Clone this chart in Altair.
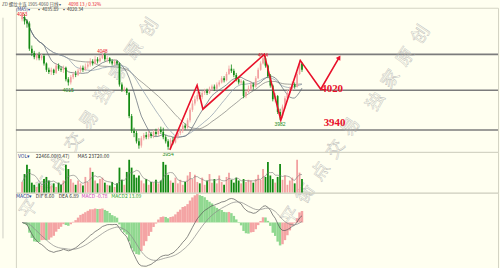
import altair as alt
import pandas as pd

# ---------------- data ----------------
opens = [4078,4080,4076,4074,4050,4046,4041,4044,4041,4043,
         4036,4030,4028,4030,4027,4034,4031,4030,4032,4021,
         4018,4023,4026,4025,4029,4032,4030,4033,4035,4038,
         4036,4040,4038,4041,4044,4040,4041,4038,4036,4038,
         4036,4016,4011,4012,4008,3986,3972,3970,3962,3958,
         3965,3968,3966,3969,3967,3971,3969,3973,3971,3966,
         3962,3957,3963,3961,3966,3970,3972,3977,3975,3982,
         3992,3998,4002,4006,4004,4008,4010,4008,4012,4014,
         4012,4016,4018,4022,4020,4026,4031,4029,4025,4021,
         4018,4019,4005,4009,4012,4016,4014,4022,4030,4036,
         4041,4034,4024,4015,4002,4005,3990,3986,3995,4003,
         4008,4012,4016,4014,4026,4036]
closes = [4081,4076,4074,4050,4046,4042,4044,4041,4043,4036,
          4030,4028,4030,4027,4034,4031,4030,4032,4021,4018,
          4023,4026,4025,4029,4032,4030,4033,4035,4038,4036,
          4040,4038,4041,4044,4040,4041,4038,4036,4038,4036,
          4016,4011,4012,4008,3986,3972,3970,3962,3958,3965,
          3968,3966,3969,3967,3971,3969,3973,3971,3966,3962,
          3957,3963,3961,3966,3970,3972,3977,3975,3982,3992,
          3998,4002,4006,4004,4008,4010,4008,4012,4014,4012,
          4016,4018,4022,4020,4026,4031,4029,4025,4021,4018,
          4019,4005,4009,4012,4016,4014,4022,4030,4036,4041,
          4034,4024,4015,4002,4005,3990,3986,3995,4003,4008,
          4012,4016,4014,4026,4036,4030]
highs = [4083,4083,4078,4076,4053,4048,4046,4047,4045,4045,
         4037,4032,4032,4031,4036,4036,4033,4034,4033,4023,
         4025,4028,4029,4031,4034,4034,4036,4038,4041,4040,
         4043,4042,4044,4048,4046,4043,4042,4040,4040,4039,
         4037,4018,4014,4013,4009,3988,3975,3972,3965,3967,
         3970,3971,3972,3971,3973,3974,3975,3976,3975,3968,
         3964,3965,3966,3968,3972,3974,3979,3979,3984,3994,
         4001,4005,4009,4009,4010,4012,4012,4014,4016,4016,
         4018,4020,4024,4024,4028,4034,4035,4031,4027,4023,
         4021,4020,4011,4015,4019,4018,4024,4032,4038,4044,
         4043,4035,4026,4016,4008,4006,3993,3997,4005,4011,
         4014,4019,4018,4028,4039,4037]
lows = [4076,4073,4070,4048,4043,4040,4039,4039,4039,4034,
        4028,4026,4025,4025,4026,4029,4028,4027,4019,4015,
        4016,4021,4023,4024,4027,4028,4029,4031,4033,4034,
        4035,4036,4037,4040,4038,4037,4036,4034,4034,4034,
        4014,4009,4009,4006,3984,3970,3966,3960,3955,3956,
        3963,3964,3964,3965,3965,3967,3967,3969,3964,3960,
        3954,3955,3959,3960,3964,3968,3970,3973,3974,3980,
        3990,3996,4000,4002,4002,4006,4006,4007,4010,4010,
        4011,4014,4017,4018,4019,4025,4027,4023,4019,4016,
        4016,4003,4003,4008,4010,4011,4013,4021,4029,4035,
        4032,4022,4013,4000,3999,3988,3982,3984,3993,4001,
        4006,4010,4012,4013,4025,4028]
volumes = [15,26,39,33,14,11,8,13,10,19,
           22,17,10,13,8,14,11,17,39,33,
           19,14,11,17,13,10,22,15,35,29,
           17,13,19,21,14,11,10,15,8,13,
           35,18,11,29,46,35,25,21,24,17,
           13,19,11,15,14,18,13,17,43,39,
           25,17,14,21,13,18,11,15,24,29,
           19,25,15,13,21,11,17,26,14,19,
           13,24,15,11,22,28,18,14,21,17,
           13,19,15,18,17,14,19,25,18,33,
           22,43,24,19,14,22,40,18,24,11,
           17,21,13,46,28,19]

levels = [4044.6, 4010.6, 3972.8]
zz_i = [60.7, 71.9, 74.3, 99.5, 106.3, 114.3, 122.7, 130.3]
zz_p = [3953.9, 4015.3, 3992.6, 4044.6, 3982.2, 4038.9, 4011.5, 4041.7]
lvl_text = ["4020", "3940"]
lvl_i = [122.9, 123.9]
lvl_p = [4011.5, 3979.4]
hi_i = [0, 33, 99]
hi_t = ["4083", "4048", "4044"]
lo_i = [19, 60, 106]
lo_t = ["4015", "3954", "3982"]

# ---------------- frames ----------------
n = len(closes)
df = pd.DataFrame({"i": list(range(n)), "open": opens, "close": closes,
                   "high": highs, "low": lows, "vol": volumes})
df["dir"] = ["up" if c >= o else "down" for o, c in zip(opens, closes)]

cs = pd.Series(closes, dtype=float)
dif = cs.ewm(span=12, adjust=False).mean() - cs.ewm(span=26, adjust=False).mean()
dea = dif.ewm(span=9, adjust=False).mean()
hist = 2 * (dif - dea)
df["dif"] = dif
df["dea"] = dea
df["hist"] = hist
df["hdir"] = ["rise" if (k == 0 or hist[k] >= hist[k - 1]) else "fall" for k in range(n)]

lo_m = float(min(dif.min(), dea.min(), hist.min()))
macd_dom = [round(lo_m * 46 / 44, 2), round(-lo_m * 30 / 44, 2)]
macd_tick = round(lo_m * 24 / 44)

zz = pd.DataFrame({"zi": zz_i, "zp": zz_p, "k": list(range(len(zz_i)))})
lv = pd.DataFrame({"lvl": levels})
lt = pd.DataFrame({"t": lvl_text, "li": lvl_i, "lp": lvl_p})
hdf = pd.DataFrame({"t": hi_t, "xi": hi_i, "p": [highs[k] for k in hi_i]})
ldf = pd.DataFrame({"t": lo_t, "xi": lo_i, "p": [lows[k] for k in lo_i]})

# ---------------- styles ----------------
BG = "#fffff0"
UP = "#f2a0a0"
DN = "#138a13"
RED = "#e8102a"
W = 485
XS = alt.Scale(domain=[-0.5, 193.5], nice=False, zero=False)
YS = alt.Scale(domain=[3952, 4088.9], nice=False, zero=False)
VS = alt.Scale(domain=[0, 57], nice=False)
MS = alt.Scale(domain=macd_dom, nice=False, zero=False)
cenc = alt.Color("dir:N", scale=alt.Scale(domain=["up", "down"], range=[UP, DN]), legend=None)
ax = dict(labelFontSize=5, labelColor="#555", ticks=False, domain=False,
          title=None, labelPadding=2, labelFont="DejaVu Sans")


def label(text, x, y, color, size=5, **kw):
    return alt.Chart(pd.DataFrame({"t": [text]})).mark_text(
        fontSize=size, color=color, align="left", baseline="middle",
        font="Noto Sans CJK SC", **kw).encode(x=alt.value(x), y=alt.value(y), text="t:N")


def water(text, x, y):
    return alt.Chart(pd.DataFrame({"t": [text]})).mark_text(
        fontSize=18, font="Noto Sans CJK SC", angle=304, fillOpacity=0,
        stroke="#b4b4b4", strokeWidth=0.4, align="center", baseline="middle"
    ).encode(x=alt.value(x), y=alt.value(y), text="t:N")


base = alt.Chart(df)
X = alt.X("i:Q", scale=XS, axis=None)

rules = alt.Chart(lv).mark_rule(color="#7c7c7c", strokeWidth=1.6).encode(
    y=alt.Y("lvl:Q", scale=YS, axis=alt.Axis(values=[4000, 4050], grid=False, **ax)))
ma_a = base.transform_window(ma="mean(close)", frame=[-9, 0]).mark_line(
    color="#5a6470", strokeWidth=0.7).encode(x=X, y=alt.Y("ma:Q", scale=YS, axis=None))
ma_b = base.transform_window(ma="mean(close)", frame=[-19, 0]).mark_line(
    color="#8a98aa", strokeWidth=0.7).encode(x=X, y=alt.Y("ma:Q", scale=YS, axis=None))
ma_c = base.transform_window(ma="mean(close)", frame=[-29, 0]).mark_line(
    color="#666666", strokeWidth=0.6).encode(x=X, y=alt.Y("ma:Q", scale=YS, axis=None))
wick = base.mark_rule(strokeWidth=0.8).encode(
    x=X, y=alt.Y("low:Q", scale=YS, axis=None), y2="high:Q", color=cenc)
body = base.mark_bar(size=1.7).encode(
    x=X, y=alt.Y("open:Q", scale=YS, axis=None), y2="close:Q", color=cenc)
zig = alt.Chart(zz).mark_line(color=RED, strokeWidth=1.6).encode(
    x=alt.X("zi:Q", scale=XS, axis=None), y=alt.Y("zp:Q", scale=YS, axis=None), order="k:O")
arrow = alt.Chart(zz.tail(1)).mark_point(shape="triangle-up", filled=True, size=28,
                                         angle=31, color=RED, opacity=1).encode(
    x=alt.X("zi:Q", scale=XS, axis=None), y=alt.Y("zp:Q", scale=YS, axis=None))
ltext = alt.Chart(lt).mark_text(color=RED, font="Liberation Serif", fontWeight="bold",
                                fontSize=11, align="left", baseline="middle").encode(
    x=alt.X("li:Q", scale=XS, axis=None), y=alt.Y("lp:Q", scale=YS, axis=None), text="t:N")
htext = alt.Chart(hdf).mark_text(color=RED, fontSize=4.6, baseline="bottom", dy=3).encode(
    x=alt.X("xi:Q", scale=XS, axis=None), y=alt.Y("p:Q", scale=YS, axis=None), text="t:N")
ltext2 = alt.Chart(ldf).mark_text(color="#1a8a1a", fontSize=5, baseline="top", dy=2).encode(
    x=alt.X("xi:Q", scale=XS, axis=None), y=alt.Y("p:Q", scale=YS, axis=None), text="t:N")
edge = alt.Chart(pd.DataFrame({"a": [0]})).mark_rule(color="#cfcfc4", strokeWidth=1).encode(
    x=alt.value(-13), y=alt.value(10), y2=alt.value(232))
# background-coloured anchor that fixes the top-left corner of the page
anchor = alt.Chart(pd.DataFrame({"a": [0]})).mark_rule(color=BG, strokeWidth=0.01).encode(
    x=alt.value(-15), x2=alt.value(-14.5), y=alt.value(-5), y2=alt.value(-5))

main = alt.layer(
    anchor, rules,
    water("独\u2002家\u2002原\u2002创", 112, 54),
    water("平\u2002衡\u2002点\u2002交\u2002易", 44, 158),
    water("独\u2002家\u2002原\u2002创", 385, 61),
    water("平\u2002衡\u2002点\u2002交\u2002易", 307, 165),
    ma_c, ma_b, ma_a, wick, body, zig, arrow, ltext, htext, ltext2, edge,
    label("ZD 螺纹主连 1905  4060   日线 ▾", -14, -2.7, "#555", size=4.5),
    label("4098", 53, -2.7, RED, size=4.5),
    label("13 / 0.32%", 64, -2.7, RED, size=4.5),
    label("(MA5)▾", 0, 2.2, "#2a3a90", size=4.5),
    label("▪ 4035.89", 21, 2.2, "#333", size=4.5),
    label("▪ 4020.34", 46, 2.2, "#333", size=4.5),
).properties(width=W, height=145)

vbars = base.mark_bar(size=1.8).encode(
    x=X, y=alt.Y("vol:Q", scale=VS, axis=alt.Axis(values=[25], grid=False, **ax)), color=cenc)
vma = base.transform_window(vm="mean(vol)", frame=[-4, 0]).mark_line(
    color="#7a7a7a", strokeWidth=0.6).encode(x=X, y=alt.Y("vm:Q", scale=VS, axis=None))
vol = alt.layer(
    vbars, vma,
    label("VOL▾", 2, 4, "#2a3a90"),
    label("22466.00(0.47)", 20, 4, "#333"),
    label("MA5  23720.00", 62, 4, "#333"),
).properties(width=W, height=41)

hbars = base.mark_bar(size=2.5).encode(
    x=X, y=alt.Y("hist:Q", scale=MS, axis=alt.Axis(values=[0, macd_tick], grid=True,
                                                   gridColor="#e8e8d8", gridWidth=1, **ax)),
    color=alt.Color("hdir:N", scale=alt.Scale(domain=["rise", "fall"], range=["#f4a4a4", "#90d890"]),
                    legend=None))
ldif = base.mark_line(color="#555", strokeWidth=0.7).encode(
    x=X, y=alt.Y("dif:Q", scale=MS, axis=None))
ldea = base.mark_line(color="#888", strokeWidth=0.7).encode(
    x=X, y=alt.Y("dea:Q", scale=MS, axis=None))
macd = alt.layer(
    hbars, ldif, ldea,
    label("MACD▾", 0, 3, "#2a3a90"),
    label("DIF 6.60", 20, 3, "#333"),
    label("DEA 6.89", 43, 3, "#333"),
    label("MACD -0.78", 66, 3, "#d040c0"),
    label("MACD2 13.09", 96, 3, "#30a030"),
).properties(width=W, height=76)

chart = alt.VConcatChart(vconcat=[main, vol, macd], spacing=0, bounds="flush").resolve_scale(
    color="independent"
).properties(
    autosize=alt.AutoSizeParams(type="pad"),
    padding=0,
    background=BG,
).configure_view(stroke="#d4d4c4", strokeWidth=1)

chart.save("out.html", embed_options={"renderer": "svg", "actions": False})
